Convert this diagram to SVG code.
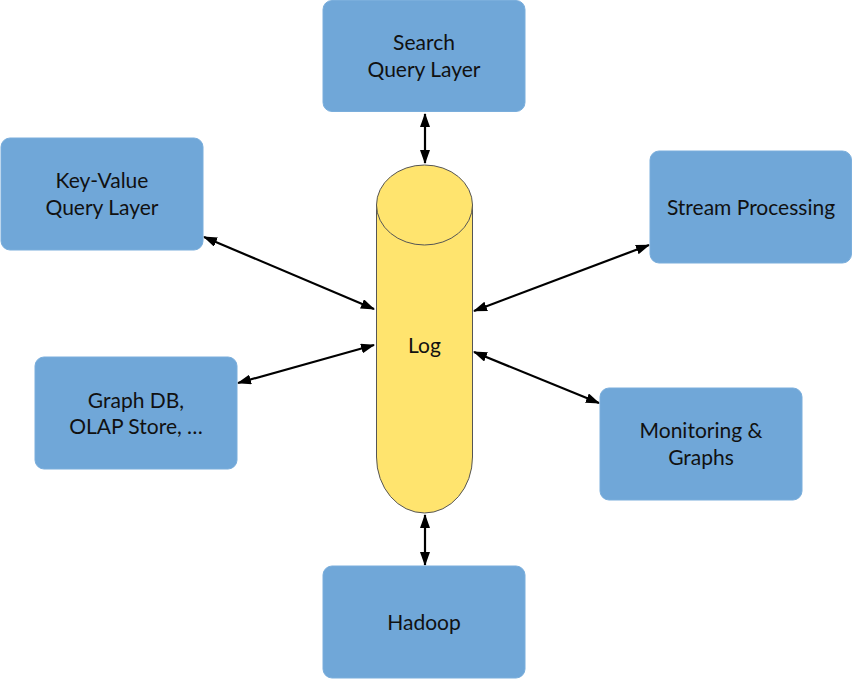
<svg xmlns="http://www.w3.org/2000/svg" width="852" height="679" viewBox="0 0 852 679">
<defs>
<style>
.box{fill:#70a7d8;stroke:#7aaedc;stroke-width:1}
.t{font-family:Lato,"Liberation Sans",Arial,sans-serif;font-size:21px;fill:#111;text-anchor:middle}
.c{stroke:#000;stroke-width:2.2;fill:none;marker-start:url(#ah);marker-end:url(#ah)}
.cyl{fill:#ffe46e;stroke:#555;stroke-width:1}
</style>
<marker id="ah" viewBox="0 0 14 10" refX="13" refY="5" markerWidth="14" markerHeight="10" markerUnits="userSpaceOnUse" orient="auto-start-reverse">
<path d="M0,0 L14,5 L0,10 Z" fill="#000"/>
</marker>
</defs>
<rect width="852" height="679" fill="#fff"/>
<g id="connectors">
<line class="c" x1="425" y1="114" x2="425" y2="163"/>
<line class="c" x1="425" y1="515" x2="425" y2="565"/>
<line class="c" x1="204" y1="237" x2="374" y2="309"/>
<line class="c" x1="238" y1="383" x2="374" y2="345"/>
<line class="c" x1="649" y1="245" x2="474" y2="311"/>
<line class="c" x1="474" y1="352" x2="599" y2="403"/>
</g>
<g id="log">
<path class="cyl" d="M376.5,205 L376.5,457 A48,56 0 0 0 472.5,457 L472.5,205"/>
<ellipse class="cyl" cx="424.5" cy="205" rx="48" ry="40"/>
<text class="t" x="424.5" y="353">Log</text>
</g>
<g id="search">
<rect class="box" x="323" y="0.5" width="202" height="111" rx="9"/>
<text class="t" x="424" y="50">Search</text>
<text class="t" x="424" y="77">Query Layer</text>
</g>
<g id="keyvalue">
<rect class="box" x="1" y="138" width="202" height="112" rx="9"/>
<text class="t" x="102" y="188">Key-Value</text>
<text class="t" x="102" y="215">Query Layer</text>
</g>
<g id="stream">
<rect class="box" x="650" y="151" width="201.5" height="112" rx="9"/>
<text class="t" x="751" y="215">Stream Processing</text>
</g>
<g id="graphdb">
<rect class="box" x="35" y="357" width="202" height="112" rx="9"/>
<text class="t" x="136" y="408">Graph DB,</text>
<text class="t" x="136" y="434">OLAP Store, …</text>
</g>
<g id="monitoring">
<rect class="box" x="600" y="388" width="202" height="112" rx="9"/>
<text class="t" x="701" y="438">Monitoring &amp;</text>
<text class="t" x="701" y="465">Graphs</text>
</g>
<g id="hadoop">
<rect class="box" x="323" y="566" width="202" height="112" rx="9"/>
<text class="t" x="424" y="630">Hadoop</text>
</g>
</svg>
